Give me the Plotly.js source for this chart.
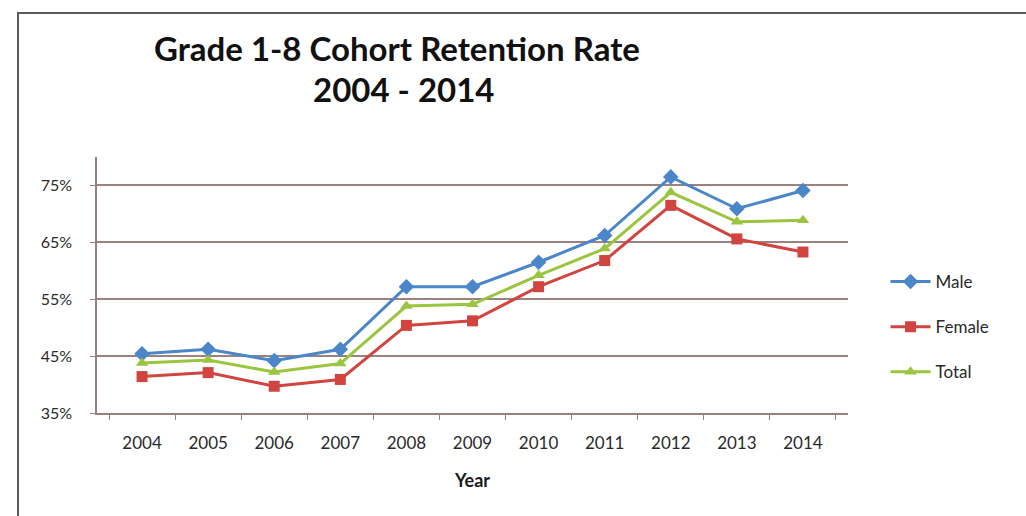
<!DOCTYPE html>
<html>
<head>
<meta charset="utf-8">
<script src="https://cdn.plot.ly/plotly-3.0.1.min.js"></script>
<style>
  html, body { margin: 0; padding: 0; background: #fff; }
  #chart { width: 1026px; height: 516px; }
  #frame {
    position: absolute; left: 17px; top: 12px; right: 0; bottom: 0;
    border-left: 2px solid #5a5a5a; border-top: 2px solid #5a5a5a;
    pointer-events: none;
  }
</style>
</head>
<body>
<div id="chart"></div>
<div id="frame"></div>
<script>
// 연도 (x축 범주)
const years = ['2004', '2005', '2006', '2007', '2008', '2009', '2010', '2011', '2012', '2013', '2014'];

// 그림에서 읽은 값 (%)
const male   = [45.4, 46.2, 44.2, 46.2, 57.2, 57.2, 61.5, 66.2, 76.5, 70.9, 74.1];
const female = [41.4, 42.1, 39.7, 40.9, 50.4, 51.2, 57.2, 61.8, 71.5, 65.6, 63.3];
const total  = [43.8, 44.3, 42.2, 43.7, 53.8, 54.1, 59.2, 63.9, 73.8, 68.6, 68.9];

const yTicks = [35, 45, 55, 65, 75];
const yTickLabels = ['35%', '45%', '55%', '65%', '75%'];

const titleLines = ['Grade 1-8 Cohort Retention Rate', '2004 - 2014'];

const font = 'Lato, "Open Sans", sans-serif';

function series(name, values, color, symbol, size, group) {
    return {
        x: years,
        y: values,
        name: name,
        type: 'scatter',
        mode: 'lines+markers',
        legendgroup: group,
        line: { color: color, width: 3 },
        marker: { color: color, symbol: symbol, size: size }
    };
}

const data = [
    series('Male', male, '#4a86c8', 'diamond', 12, 'a'),
    series('Female', female, '#d0453f', 'square', 11, 'b'),
    series('Total', total, '#9bc540', 'triangle-up', 11, 'c')
];

// 제목은 두 줄을 각각 주석으로 배치
const titleFont = { family: font, size: 33, color: '#111', weight: 'bold' };
const annotations = [
    { text: titleLines[0], xref: 'paper', yref: 'paper', x: (397 - 97) / 751, y: (413 - 48) / 256,
      xanchor: 'center', yanchor: 'middle', showarrow: false, font: titleFont },
    { text: titleLines[1], xref: 'paper', yref: 'paper', x: (403 - 97) / 751, y: (413 - 89) / 256,
      xanchor: 'center', yanchor: 'middle', showarrow: false, font: titleFont }
];

const layout = {
    width: 1026,
    height: 516,
    paper_bgcolor: '#ffffff',
    plot_bgcolor: '#ffffff',
    margin: { l: 97, r: 178, t: 157, b: 103 },
    font: { family: font, color: '#333' },
    showlegend: true,
    annotations: annotations,
    xaxis: {
        type: 'category',
        tickson: 'boundaries',
        ticks: 'outside',
        ticklen: 5,
        tickcolor: '#98817d',
        showline: true,
        linecolor: '#98817d',
        linewidth: 1.5,
        showgrid: false,
        ticklabelstandoff: 14,
        tickfont: { family: font, size: 17, color: '#2a2a2a' },
        title: { text: 'Year', font: { family: font, size: 18, color: '#1a1a1a', weight: 'bold' }, standoff: 22 }
    },
    yaxis: {
        range: [35, 80],
        tickvals: yTicks,
        ticktext: yTickLabels,
        ticks: 'outside',
        ticklen: 5,
        tickcolor: '#98817d',
        showline: true,
        linecolor: '#98817d',
        linewidth: 1.5,
        showgrid: true,
        gridcolor: '#9c827e',
        gridwidth: 1.5,
        zeroline: false,
        ticklabelstandoff: 15,
        tickfont: { family: font, size: 16, color: '#2a2a2a' }
    },
    legend: {
        x: 1.05,
        xanchor: 'left',
        y: 0.336,
        yanchor: 'middle',
        tracegroupgap: 20,
        font: { family: font, size: 17, color: '#2a2a2a' },
        itemwidth: 40
    }
};

Plotly.newPlot('chart', data, layout, { displayModeBar: false, responsive: false });
</script>
</body>
</html>
